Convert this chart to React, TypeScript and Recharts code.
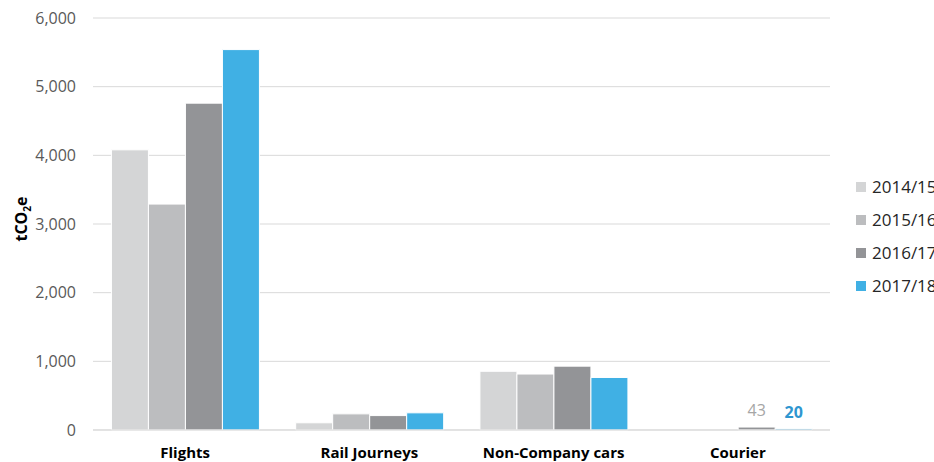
import { BarChart, Bar, XAxis, YAxis, CartesianGrid, Legend, LabelList } from 'recharts';

const categories = ['Flights', 'Rail Journeys', 'Non-Company cars', 'Courier'];
const fy1415 = [4080, 105, 855, 0];
const fy1516 = [3290, 235, 815, 0];
const fy1617 = [4760, 210, 930, 43];
const fy1718 = [5540, 250, 765, 20];
const yTicks = [0, 1000, 2000, 3000, 4000, 5000, 6000];

const SERIES = [
  { key: 'fy1415', name: '2014/15', color: '#d4d5d6' },
  { key: 'fy1516', name: '2015/16', color: '#bcbdbf' },
  { key: 'fy1617', name: '2016/17', color: '#939497' },
  { key: 'fy1718', name: '2017/18', color: '#40b0e4' },
];

const data = categories.map((c, i) => ({
  category: c,
  fy1415: fy1415[i],
  fy1516: fy1516[i],
  fy1617: fy1617[i],
  fy1718: fy1718[i],
}));

const FONT = '"Open Sans", sans-serif';

function YLabel({ viewBox }: any) {
  const cy = viewBox.y + viewBox.height / 2 - 5;
  return (
    <text
      x={0}
      y={0}
      transform={`translate(27, ${cy}) rotate(-90)`}
      textAnchor="middle"
      fontFamily={FONT}
      fontSize={16}
      fontWeight={700}
      fill="#000"
    >
      tCO
      <tspan fontSize={10} dy={4}>2</tspan>
      <tspan dy={-4}>e</tspan>
    </text>
  );
}

// only the Courier bars carry a value label
const courierLabel = (color: string, bold: boolean) => (props: any) => {
  const { x, y, width, index, value } = props;
  if (index !== 3) return null;
  return (
    <text
      x={x + width / 2}
      y={y - 11}
      textAnchor="middle"
      fontFamily={FONT}
      fontSize={16}
      fontWeight={bold ? 700 : 400}
      fill={color}
    >
      {value}
    </text>
  );
};

function LegendBox({ payload }: any) {
  return (
    <div style={{ fontFamily: FONT, fontSize: 17, color: '#262626' }}>
      {(payload || []).map((p: any) => (
        <div key={p.value} style={{ display: 'flex', alignItems: 'center', height: 33, whiteSpace: 'nowrap' }}>
          <span style={{ width: 10, height: 10, background: p.color, marginRight: 6, display: 'inline-block' }} />
          {p.value}
        </div>
      ))}
    </div>
  );
}

export default function App() {
  return (
    <div style={{ position: 'absolute', left: 0, top: 0, background: '#fff', overflow: 'hidden', width: 934, height: 462 }}>
      <BarChart
        width={934}
        height={462}
        data={data}
        margin={{ top: 18, right: 14, bottom: 0, left: 0 }}
        barGap={0}
        barCategoryGap="10%"
      >
        <CartesianGrid vertical={false} stroke="#d9d9d9" />
        <XAxis
          dataKey="category"
          height={32}
          tickLine={false}
          tickSize={0}
          tickMargin={17}
          axisLine={{ stroke: '#d9d9d9' }}
          tick={{ fontFamily: FONT, fontSize: 15, fontWeight: 700, fill: '#000' }}
          interval={0}
        />
        <YAxis
          width={93}
          domain={[0, 6000]}
          ticks={yTicks}
          tickLine={false}
          axisLine={false}
          tickSize={0}
          tickMargin={17}
          tickFormatter={(v) => v.toLocaleString('en-US')}
          tick={{ fontFamily: FONT, fontSize: 16, fill: '#595959' }}
          label={<YLabel />}
        />
        <Legend
          layout="vertical"
          align="right"
          verticalAlign="top"
          wrapperStyle={{ left: 856, top: 170, width: 90 }}
          content={<LegendBox />}
        />
        {SERIES.map((s) => (
          <Bar key={s.key} dataKey={s.key} name={s.name} fill={s.color} stroke="#fff" strokeWidth={1} isAnimationActive={false}>
            {s.key === 'fy1617' && <LabelList dataKey={s.key} content={courierLabel('#a6a6a6', false)} />}
            {s.key === 'fy1718' && <LabelList dataKey={s.key} content={courierLabel('#2e96d0', true)} />}
          </Bar>
        ))}
      </BarChart>
    </div>
  );
}
